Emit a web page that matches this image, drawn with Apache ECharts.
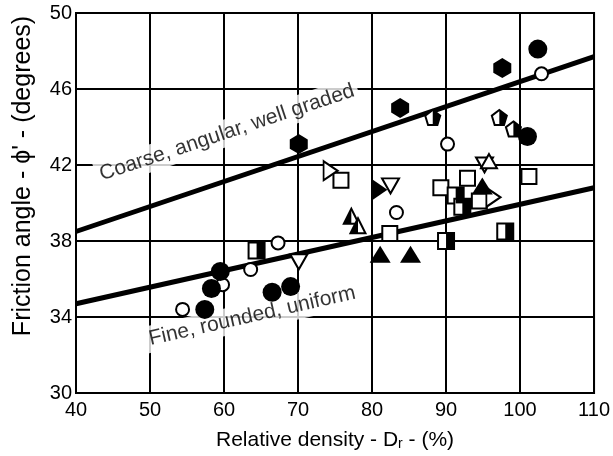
<!DOCTYPE html>
<html>
<head>
<meta charset="utf-8">
<script src="https://cdn.jsdelivr.net/npm/echarts@6/dist/echarts.min.js"></script>
<style>
  html, body { margin: 0; padding: 0; background: #fff; }
  #chart { width: 613px; height: 456px; }
</style>
</head>
<body>
<div id="chart"></div>
<script>
// Axis ticks
const xTicks = [40, 50, 60, 70, 80, 90, 100, 110];
const yTicks = [30, 34, 38, 42, 46, 50];

// Bounding trend lines (relative density %, friction angle deg)
const coarseLine = [[40, 38.5], [110, 47.7]];
const fineLine = [[40, 34.7], [110, 40.8]];
const curveNames = ['Coarse, angular, well graded', 'Fine, rounded, uniform'];

// Test results, [Dr %, phi' deg]
const filledCircles = [[102.4, 48.1], [101.0, 43.5], [59.5, 36.4], [58.3, 35.5], [57.4, 34.4], [66.5, 35.3], [69.0, 35.6]];
const openCircles = [[102.9, 46.8], [90.2, 43.1], [83.3, 39.5], [67.3, 37.9], [63.6, 36.5], [59.8, 35.7], [54.4, 34.4]];
const filledHexagons = [[70.1, 43.1], [83.8, 45.0], [97.6, 47.1]];
const halfPentagons = [[88.2, 44.5], [97.2, 44.5], [99.1, 43.9]];
const openSquares = [[75.8, 41.2], [82.4, 38.4], [101.2, 41.4], [89.3, 40.8], [92.9, 41.3], [94.5, 40.1]];
const halfSquares = [[64.4, 37.5], [98.0, 38.5], [90.0, 38.0], [91.3, 40.4], [92.2, 39.8]];
const openRightTriangles = [[74.4, 41.7], [96.4, 40.3]];
const filledRightTriangles = [[81.0, 40.7]];
const openDownTriangles = [[82.5, 40.9], [70.1, 36.9], [95.2, 42.0]];
const openUpTriangles = [[95.8, 42.2]];
const filledUpTriangles = [[81.1, 37.3], [85.2, 37.3], [94.9, 40.9]];
const halfUpTriangles = [[77.2, 39.3], [78.1, 38.8]];

const FONT = '"Liberation Sans", Arial, Helvetica, sans-serif';

const SHAPES = {
  hexagon: 'path://M0.5,0L1,0.27L1,0.73L0.5,1L0,0.73L0,0.27Z',
  pentagon: 'path://M0.5,0L1,0.38L0.81,1L0.19,1L0,0.38Z',
  pentagonRightHalf: 'path://M0,0L1,0.38L0.62,1L0,1Z',
  triRight: 'path://M0,0L1,0.5L0,1Z',
  triDown: 'path://M0,0L1,0L0.5,1Z',
  triUpLeftHalf: 'path://M1,0L1,1L0,1Z'
};

function marks(data, symbol, size, filled, extra) {
  return Object.assign({
    type: 'scatter',
    data: data,
    symbol: symbol,
    symbolSize: size,
    itemStyle: filled
      ? { color: '#000', borderWidth: 0, opacity: 1 }
      : { color: '#fff', borderColor: '#000', borderWidth: 2, opacity: 1 },
    emphasis: { disabled: true },
    silent: true
  }, extra || {});
}

function lineSeries(data) {
  return {
    type: 'line',
    data: data,
    showSymbol: false,
    symbol: 'none',
    lineStyle: { color: '#000', width: 5 },
    emphasis: { disabled: true },
    silent: true,
    z: 2
  };
}

const curveLabel = {
  show: true,
  position: 'inside',
  color: '#000',
  fontFamily: FONT,
  fontSize: 21,
  backgroundColor: '#fff',
  padding: [3, 4]
};

const chart = echarts.init(document.getElementById('chart'), null, { renderer: 'canvas' });

chart.setOption({
  backgroundColor: '#fff',
  animation: false,
  grid: { left: 76, right: 18, top: 13, bottom: 63, show: true, borderColor: '#000', borderWidth: 2, backgroundColor: 'transparent' },
  xAxis: {
    type: 'value',
    min: xTicks[0],
    max: xTicks[xTicks.length - 1],
    interval: xTicks[1] - xTicks[0],
    name: 'Relative density - D{sub|r} - (%)',
    nameLocation: 'middle',
    nameGap: 36,
    nameTextStyle: {
      color: '#000', fontFamily: FONT, fontSize: 21,
      rich: { sub: { fontFamily: FONT, fontSize: 14, verticalAlign: 'bottom', padding: [8, 0, 0, 0], color: '#000' } }
    },
    axisLine: { show: true, lineStyle: { color: '#000', width: 2 } },
    axisTick: { show: false },
    axisLabel: { color: '#000', fontFamily: FONT, fontSize: 20, margin: 7 },
    splitLine: { show: true, lineStyle: { color: '#000', width: 2 } }
  },
  yAxis: {
    type: 'value',
    min: yTicks[0],
    max: yTicks[yTicks.length - 1],
    interval: yTicks[1] - yTicks[0],
    axisLine: { show: true, lineStyle: { color: '#000', width: 2 } },
    axisTick: { show: false },
    axisLabel: { color: '#000', fontFamily: FONT, fontSize: 20, margin: 4 },
    splitLine: { show: true, lineStyle: { color: '#000', width: 2 } }
  },
  graphic: [{
    type: 'text',
    x: 23,
    y: 176,
    rotation: Math.PI / 2,
    style: {
      text: 'Friction angle - \u03d5\' - (degrees)',
      font: '25px ' + FONT,
      fill: '#000',
      align: 'center',
      verticalAlign: 'middle'
    }
  }],
  series: [
    {
      type: 'scatter',
      symbolSize: 0,
      silent: true,
      z: 1,
      data: [
        { value: [60.4, 43.7], label: Object.assign({}, curveLabel, { rotate: 18.5, formatter: curveNames[0] }) },
        { value: [63.8, 34.05], label: Object.assign({}, curveLabel, { rotate: 12.8, formatter: curveNames[1] }) }
      ]
    },
    lineSeries(coarseLine),
    lineSeries(fineLine),
    marks(openCircles, 'circle', 13, false),
    marks(filledCircles, 'circle', 19, true),
    marks(filledHexagons, SHAPES.hexagon, [18, 20], true),
    marks(openSquares, 'rect', 15, false),
    marks(halfSquares, 'rect', 16, false),
    marks(halfSquares, 'rect', [8, 16], true, { symbolOffset: [4, 0] }),
    marks(openRightTriangles, SHAPES.triRight, [14, 19], false),
    marks(filledRightTriangles, SHAPES.triRight, [16, 22], true),
    marks(openDownTriangles, SHAPES.triDown, [17, 15], false),
    marks(openUpTriangles, 'triangle', [16, 14], false),
    marks(filledUpTriangles, 'triangle', [21, 17], true),
    marks(halfUpTriangles, 'triangle', [15, 15], false),
    marks(halfUpTriangles, SHAPES.triUpLeftHalf, [7.5, 15], true, { symbolOffset: [-3.75, 0] }),
    marks(halfPentagons, SHAPES.pentagon, 15, false),
    marks(halfPentagons, SHAPES.pentagonRightHalf, [7.5, 15], true, { symbolOffset: [3.75, 0] })
  ]
});
</script>
</body>
</html>
